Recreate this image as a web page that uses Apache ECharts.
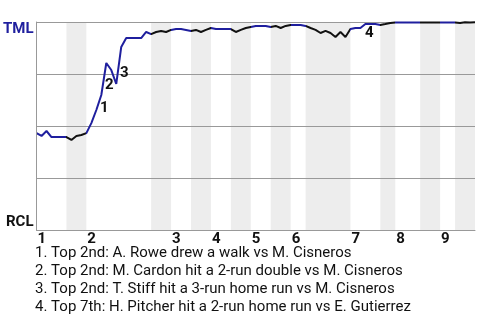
<!DOCTYPE html>
<html>
<head>
<meta charset="utf-8">
<script src="https://cdn.jsdelivr.net/npm/echarts@6/dist/echarts.min.js"></script>
<style>html,body{margin:0;padding:0;background:#fff}#c{width:480px;height:320px}</style>
</head>
<body>
<div id="c"></div>
<script>
// Win probability for TML (top team) after each event, in percent
const winProb = [
  46.6, 45.2, 47.6, 44.7, 44.7, 44.7, 44.7, 43.3, 45.2, 45.7, 46.6,
  51.4, 57.7, 64.9, 80.3, 76.9, 70.2, 88.0, 92.3, 92.3, 92.3, 92.3, 95.2, 94.2,
  95.2, 95.7, 95.2, 96.2,
  96.6, 96.6, 96.2, 95.7,
  96.2, 95.2, 96.2, 97.1,
  96.6, 96.6, 96.6, 96.6,
  95.2, 96.2, 97.1, 97.6,
  98.1, 98.1, 98.1, 97.6,
  98.1, 97.1, 98.1, 98.6,
  98.6, 98.6, 98.1,
  97.1, 96.2, 94.7, 95.7, 94.7, 92.8, 95.2, 92.8, 96.6,
  97.1, 97.1, 99.0, 99.0, 99.0, 98.6,
  99.0, 99.5, 99.8,
  99.8, 99.8, 99.8, 99.8, 99.8, 99.8, 99.8, 99.8, 99.8, 99.8, 99.8, 99.8,
  99.5, 99.9, 99.8, 99.9
];
// Event index at which each half-inning ends (T1, B1, T2, B2, ...)
const halfInningEnds = [6, 10, 23, 27, 31, 35, 39, 43, 47, 51, 54, 63, 69, 72, 77, 81, 84, 88];
const inningLabels = ['1', '2', '3', '4', '5', '6', '7', '8', '9'];
const teamTop = 'TML';
const teamBottom = 'RCL';
// Key events: index into winProb and description
const keyEventIdx = [12, 14, 17, 66];
const keyEventText = [
  'Top 2nd: A. Rowe drew a walk vs M. Cisneros',
  'Top 2nd: M. Cardon hit a 2-run double vs M. Cisneros',
  'Top 2nd: T. Stiff hit a 3-run home run vs M. Cisneros',
  'Top 7th: H. Pitcher hit a 2-run home run vs E. Gutierrez'
];
// label offsets (styling only)
const keyLabelOffsets = [[8, -2], [3, 22], [3, 26], [4, 9]];

const BLUE = '#1f1f9e';
const BLACK = '#111111';
const starts = [0].concat(halfInningEnds.slice(0, -1));
const inningStarts = starts.filter((s, i) => i % 2 === 0);
const pieces = starts.map((s, i) => {
  const e = halfInningEnds[i];
  const p = { gte: s, color: i % 2 === 0 ? BLUE : BLACK };
  if (i === starts.length - 1) p.lte = e; else p.lt = e;
  return p;
});
const bands = [];
starts.forEach((s, i) => { if (i % 2 === 1) bands.push([{ xAxis: s }, { xAxis: halfInningEnds[i] }]); });
const lineData = winProb.map((v, i) => [i, v]);
const total = winProb.length - 1;

const chart = echarts.init(document.getElementById('c'), null, { renderer: 'canvas' });
chart.setOption({
  animation: false,
  backgroundColor: '#fff',
  textStyle: { fontFamily: 'Roboto' },
  title: {
    text: keyEventText.map((t, i) => (i + 1) + '. ' + t).join('\n'),
    left: 35, top: 244, padding: 0,
    textStyle: { fontSize: 15, fontWeight: 'normal', color: '#111', fontFamily: 'Roboto', lineHeight: 18 }
  },
  grid: { left: 34, right: 5, top: 22, bottom: 90, containLabel: false },
  xAxis: {
    type: 'value', min: 0, max: total, z: 5,
    axisLine: { show: true, lineStyle: { color: '#999', width: 1 } },
    axisTick: { show: false },
    splitLine: { show: false },
    axisLabel: {
      customValues: inningStarts,
      formatter: v => inningLabels[inningStarts.indexOf(v)],
      align: 'left', padding: [0, 0, 0, 1], margin: 2,
      fontSize: 15, fontWeight: 'bold', color: '#111', fontFamily: 'Roboto'
    }
  },
  yAxis: [{
    type: 'value', min: 0, max: 100, interval: 25, z: 5,
    axisLine: { show: true, lineStyle: { color: '#999', width: 1 } },
    axisTick: { show: false },
    splitLine: { show: true, lineStyle: { color: '#999', width: 1 } },
    axisLabel: {
      customValues: [100], formatter: () => teamTop,
      verticalAlign: 'top', margin: 3,
      fontSize: 15, fontWeight: 'bold', color: BLUE, fontFamily: 'Roboto'
    }
  }, {
    type: 'value', min: 0, max: 100, position: 'left',
    axisLine: { show: false }, axisTick: { show: false }, splitLine: { show: false },
    axisLabel: {
      customValues: [0], formatter: () => teamBottom,
      verticalAlign: 'bottom', margin: 3,
      fontSize: 15, fontWeight: 'bold', color: BLACK, fontFamily: 'Roboto'
    }
  }],
  visualMap: {
    type: 'piecewise', show: false, dimension: 0, seriesIndex: 1, pieces: pieces
  },
  series: [{
    type: 'line', data: [], z: 1, silent: true,
    markArea: { silent: true, itemStyle: { color: '#ededed' }, data: bands }
  }, {
    type: 'line', data: lineData, showSymbol: false, symbol: 'none',
    lineStyle: { width: 2 }, z: 8
  }, {
    type: 'scatter', symbolSize: 0, z: 9, silent: true,
    itemStyle: { opacity: 1, color: 'rgba(0,0,0,0)' },
    data: keyEventIdx.map((k, i) => ({
      value: [k, winProb[k]],
      label: { show: true, position: 'inside', offset: keyLabelOffsets[i], formatter: String(i + 1),
        fontSize: 15, fontWeight: 'bold', color: '#111', opacity: 1, textBorderWidth: 0, fontFamily: 'Roboto' }
    }))
  }]
});
</script>
</body>
</html>
